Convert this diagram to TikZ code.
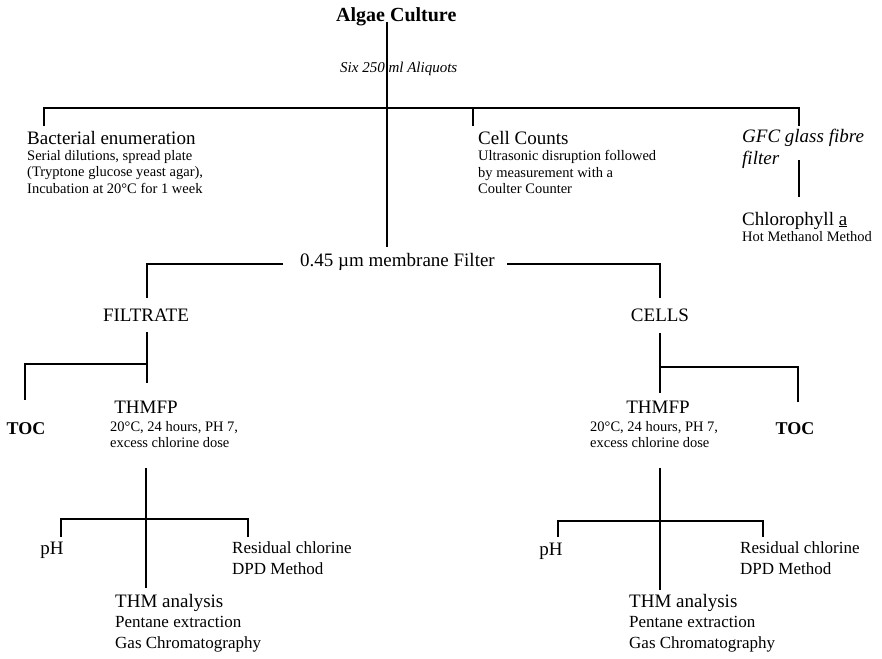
\documentclass[tikz,border=0pt]{standalone}
\usepackage{fontspec}
\setmainfont{Liberation Serif}
\usetikzlibrary{positioning}

\begin{document}
\begin{tikzpicture}[
    x=1pt, y=-1pt,
    link/.style={line width=1.6pt, black},
    title/.style={inner sep=0pt, font=\fontsize{20}{24}\selectfont\bfseries},
    head/.style={inner sep=0pt, text height=14pt, text depth=4pt, font=\fontsize{19}{22}\selectfont},
    aside/.style={inner sep=0pt, align=left, font=\fontsize{15}{18}\selectfont\itshape},
    filterlabel/.style={inner sep=0pt, align=left, font=\fontsize{19}{22}\selectfont\itshape},
    note/.style={inner sep=0pt, align=left, font=\fontsize{14.5}{16.5}\selectfont},
    midnote/.style={inner sep=0pt, align=left, font=\fontsize{17}{21}\selectfont},
    tocbox/.style={inner sep=0pt, font=\fontsize{18}{22}\selectfont\bfseries},
]
    \useasboundingbox (0,0) rectangle (882,658);

    % top of the tree
    \node[title, anchor=base west] (culture) at (336,22) {Algae Culture};
    \node[aside, anchor=base west] (aliquots) at (340,73) {Six 250 ml Aliquots};

    % first split
    \node[head, anchor=base west] (bact) at (27,144) {Bacterial enumeration};
    \node[note, below right=2pt and 0pt of bact.south west] (bactnote) {Serial dilutions, spread plate\\(Tryptone glucose yeast agar),\\Incubation at 20°C for 1 week};
    \node[head, anchor=base west] (counts) at (478,144) {Cell Counts};
    \node[note, below right=2pt and 0pt of counts.south west] (countsnote) {Ultrasonic disruption followed\\by measurement with a\\Coulter Counter};
    \node[filterlabel, anchor=north west] (gfc) at (742,129) {GFC glass fibre\\filter};
    \node[head, anchor=base west] (chloro) at (742,225) {Chlorophyll \underline{a}};
    \node[note, below right=2pt and 0pt of chloro.south west] (chloronote) {Hot Methanol Method};

    % membrane filter
    \node[head, anchor=base west] (membrane) at (300,266) {0.45 µm membrane Filter};
    \node[head, anchor=base] (filtrate) at (146,321) {FILTRATE};
    \node[head, anchor=base] (cells) at (660,321) {CELLS};

    % THMFP on both sides
    \node[head, anchor=base] (thmfpL) at (146,413) {THMFP};
    \node[head, anchor=base] (thmfpR) at (658,413) {THMFP};
    \node[tocbox, anchor=base] (tocL) at (26,434) {TOC};
    \node[tocbox, anchor=base] (tocR) at (795,434) {TOC};
    \node[note, anchor=north west] (condL) at (110,421) {20°C, 24 hours, PH 7,\\excess chlorine dose};
    \node[note, anchor=north west] (condR) at (590,421) {20°C, 24 hours, PH 7,\\excess chlorine dose};

    % analyses
    \node[head, anchor=base] (phL) at (52,554) {pH};
    \node[head, anchor=base] (phR) at (551,555) {pH};
    \node[midnote, anchor=north west] (residL) at (232,541) {Residual chlorine\\DPD Method};
    \node[midnote, anchor=north west] (residR) at (740,541) {Residual chlorine\\DPD Method};
    \node[head, anchor=base west] (thmL) at (115,607) {THM analysis};
    \node[midnote, below right=5pt and 0pt of thmL.south west] (thmnoteL) {Pentane extraction\\Gas Chromatography};
    \node[head, anchor=base west] (thmR) at (629,607) {THM analysis};
    \node[midnote, below right=5pt and 0pt of thmR.south west] (thmnoteR) {Pentane extraction\\Gas Chromatography};

    % junctions and line ends
    \coordinate (trunk) at (387,108);
    \coordinate (bactDrop) at (44,126);
    \coordinate (countsDrop) at (473,126);
    \coordinate (gfcDrop) at (799,126);
    \coordinate (gfcTop) at (799,160);
    \coordinate (gfcEnd) at (799,197);
    \coordinate (trunkEnd) at (387,247);
    \coordinate (memL) at (283,264);
    \coordinate (memR) at (507,264);
    \coordinate (filtDrop) at (147,298);
    \coordinate (cellsDrop) at (660,298);

    \draw[link] (trunk |- culture.base) -- (trunkEnd);
    \draw[link] (bactDrop) |- (trunk) -| (gfcDrop);
    \draw[link] (countsDrop |- trunk) -- (countsDrop);
    \draw[link] (gfcTop) -- (gfcEnd);
    \draw[link] (memL) -| (filtDrop);
    \draw[link] (memR) -| (cellsDrop);

    % filtrate branch
    \draw[link] (147,332) coordinate (fTop) -- (147,383) coordinate (fEnd);
    \draw[link] (147,364) coordinate (fJoin) -| (25,400) coordinate (tocDropL);
    % cells branch
    \draw[link] (660,333) coordinate (cTop) -- (660,393) coordinate (cEnd);
    \draw[link] (660,367) coordinate (cJoin) -| (798,402) coordinate (tocDropR);

    % THMFP splits
    \draw[link] (146,468) coordinate (tTopL) -- (146,588) coordinate (tEndL);
    \draw[link] (61,537) coordinate (phDropL) |- (146,519) coordinate (tJoinL) -| (248,537) coordinate (resDropL);
    \draw[link] (660,468) coordinate (tTopR) -- (660,590) coordinate (tEndR);
    \draw[link] (558,537) coordinate (phDropR) |- (660,521) coordinate (tJoinR) -| (763,537) coordinate (resDropR);
\end{tikzpicture}
\end{document}
